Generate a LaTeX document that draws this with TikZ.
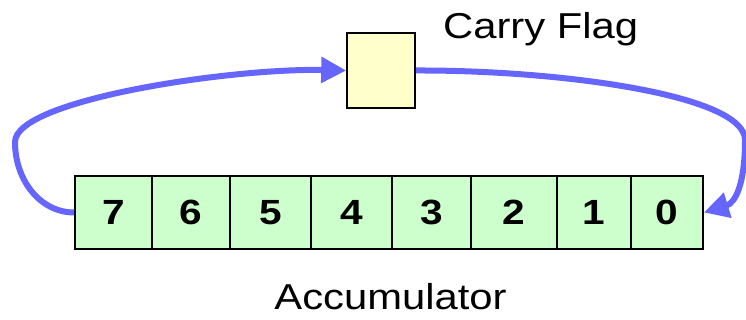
\documentclass[tikz,border=0pt]{standalone}
\usepackage{fontspec}
\setmainfont{Liberation Sans}
\usepackage{graphicx}
\usetikzlibrary{arrows.meta}

\definecolor{bitgreen}{HTML}{CCFFCC}
\definecolor{flagyellow}{HTML}{FFFFCC}
\definecolor{loopblue}{HTML}{6666FF}
\newcommand{\wide}[1]{\scalebox{1.16}[1]{#1}}

\begin{document}
\begin{tikzpicture}[x=1pt, y=-1pt,
  bitcell/.style={draw, line width=1.6pt, fill=bitgreen, inner sep=0pt,
    minimum height=73pt, font=\fontsize{35}{42}\selectfont\bfseries},
  flagbox/.style={draw, line width=1.6pt, fill=flagyellow, inner sep=0pt,
    minimum width=68pt, minimum height=75pt},
  nametext/.style={inner sep=0pt, font=\fontsize{36}{43}\selectfont},
  rotarrow/.style={draw=loopblue, line width=6pt,
    -{Triangle[length=25pt, width=25pt]}}]

  \useasboundingbox (0,0) rectangle (746,320);

  % --- Carry flag ---
  \node[flagbox] (cf) at (381,70.5) {};
  \node[nametext, anchor=base west] (cflabel) at (443,39) {\wide{Carry Flag}};

  % --- Accumulator bits 7..0 ---
  \foreach \bit/\l/\r in {7/75/152, 6/152/230, 5/230/311, 4/311/392,
                          3/392/471, 2/471/557, 1/557/631, 0/631/703}
    \node[bitcell, minimum width={(\r-\l)*1pt}] (c\bit) at ({(\l+\r)/2},212.5) {\wide{\bit}};
  \node[nametext, anchor=base] (acclabel) at (390.5,309) {\wide{Accumulator}};

  % --- Rotate through carry ---
  \draw[rotarrow] (c7.west) .. controls (40,212.5) and (15,180) .. (15,142)
    .. controls (15,100) and (230,68) .. (cf.west);
  \draw[rotarrow] (cf.east) .. controls (560,70) and (745,95) .. (745,140)
    .. controls (745,185) and (735,203) .. (c0.east);

\end{tikzpicture}
\end{document}
